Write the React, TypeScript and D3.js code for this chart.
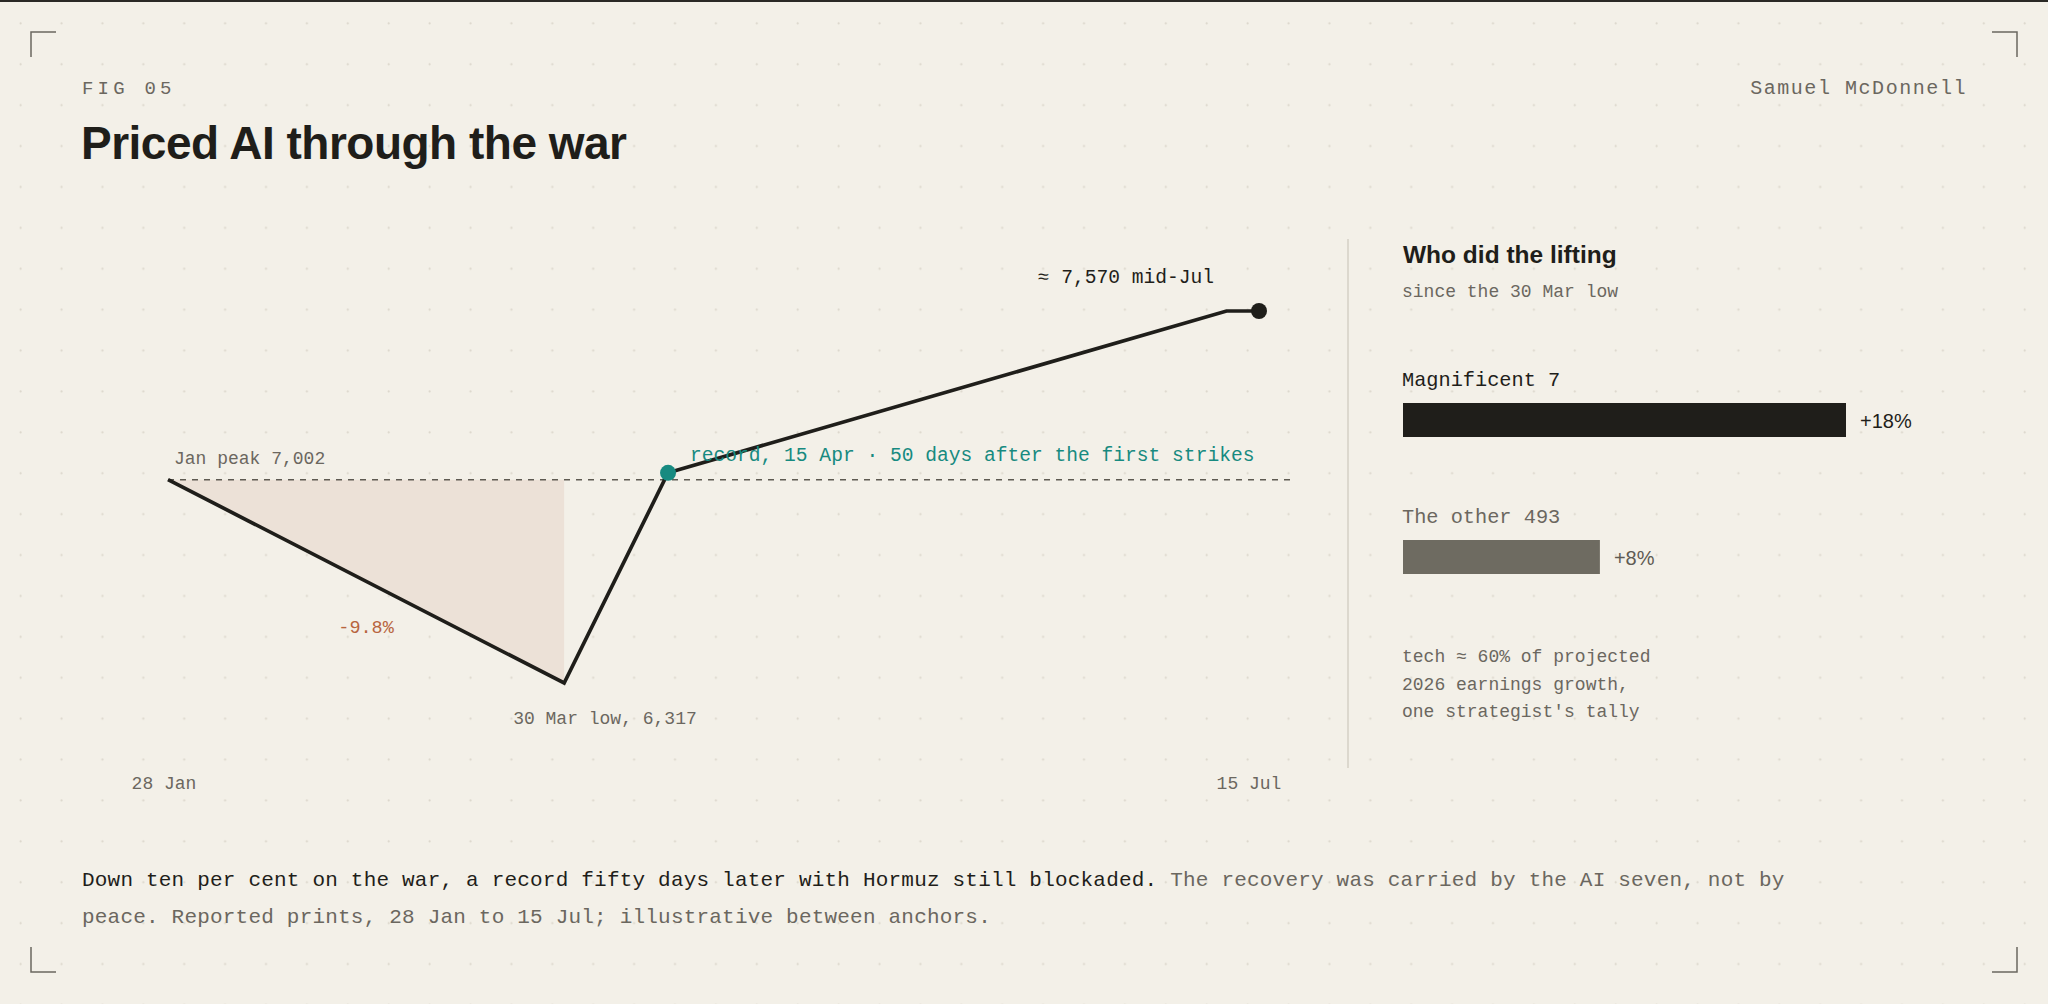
import React, { useEffect } from 'react';
import * as d3 from 'd3';

const W = 2048;
const H = 1004;

// index level: reported prints at the anchors, illustrative in between
const dates = ['2026-01-28', '2026-03-30', '2026-04-15', '2026-07-10', '2026-07-15'];
const levels = [7002, 6317, 7025, 7570, 7570];

const axisTicks = ['2026-01-28', '2026-07-15'];
const axisTickLabels = ['28 Jan', '15 Jul'];

// right panel
const barCategories = ['Magnificent 7', 'The other 493'];
const barValues = [18, 8];
const barLabels = ['+18%', '+8%'];

const noteLines = ['tech \u2248 60% of projected', '2026 earnings growth,', "one strategist's tally"];

const captionLead = 'Down ten per cent on the war, a record fifty days later with Hormuz still blockaded.';
const captionRest = ' The recovery was carried by the AI seven, not by';
const captionLine2 = 'peace. Reported prints, 28 Jan to 15 Jul; illustrative between anchors.';

const MONO = "'Liberation Mono', 'DejaVu Sans Mono', monospace";
const SANS = "'Liberation Sans', Arial, sans-serif";

const BG = '#f3f0e8';
const INK = '#1f1e1a';
const GREY = '#6b675f';
const TEAL = '#178a80';
const RUST = '#b8653f';

const parse = d3.timeParse('%Y-%m-%d');

const App: React.FC = () => {
  useEffect(() => {
    document.body.style.margin = '0';
    document.body.style.overflow = 'hidden';
  }, []);

  const pts = dates.map((d, i) => ({ date: parse(d) as Date, value: levels[i] }));

  const x = d3.scaleTime()
    .domain([pts[0].date, pts[pts.length - 1].date])
    .range([168, 1259]);
  const y = d3.scaleLinear().domain([6317, 7570]).range([683, 311]);
  const plotRight = 1293;

  const peak = pts[0];
  const low = pts[1];
  const record = pts[2];
  const last = pts[pts.length - 1];

  const line = d3.line<{ date: Date; value: number }>()
    .x(d => x(d.date))
    .y(d => y(d.value));

  // drawdown shading: between the Jan peak and the line, down to the low
  const area = d3.area<{ date: Date; value: number }>()
    .x(d => x(d.date))
    .y0(y(peak.value))
    .y1(d => y(d.value));

  const drop = d3.format('.1%')((low.value - peak.value) / peak.value).replace('\u2212', '-');
  const fmt = d3.format(',');

  // bars
  const bx = d3.scaleLinear().domain([0, 18]).range([0, 443]);
  const by = d3.scalePoint<string>().domain(barCategories).range([403, 540]);
  const panelX = 1403;
  const left = 82;

  const corner = '#6b675f';

  return (
    <svg width={W} height={H} style={{ position: 'absolute', left: 0, top: 0, display: 'block' }}>
      <defs>
        <pattern id="dots" width={40.9} height={40.9} patternUnits="userSpaceOnUse">
          <circle cx={20.6} cy={23.4} r={1.1} fill="#dcd7cc" />
        </pattern>
      </defs>
      <rect width={W} height={H} fill={BG} />
      <rect width={W} height={H} fill="url(#dots)" />
      <rect width={W} height={2} fill="#2a2925" />

      {/* corner marks */}
      <g fill="none" stroke={corner} strokeWidth={1.5}>
        <path d="M31,57 V32 H56" />
        <path d="M1992,32 H2017 V57" />
        <path d="M31,947 V972 H56" />
        <path d="M1992,972 H2017 V947" />
      </g>

      {/* header */}
      <text x={left} y={94} fontFamily={MONO} fontSize={19} letterSpacing={4.2} fill={GREY}>FIG 05</text>
      <text x={1967} y={94} fontFamily={MONO} fontSize={20} letterSpacing={1.55} fill={GREY} textAnchor="end">Samuel McDonnell</text>
      <text x={left - 1} y={159} fontFamily={SANS} fontWeight={700} fontSize={46} letterSpacing={-0.5} fill={INK}>Priced AI through the war</text>

      {/* line chart */}
      <path d={area(pts.slice(0, 2)) || ''} fill="#ece1d7" />
      <line x1={x(peak.date)} x2={plotRight} y1={y(peak.value)} y2={y(peak.value)}
        stroke="#5e5a52" strokeWidth={1.5} strokeDasharray="6 6" />
      <path d={line(pts) || ''} fill="none" stroke={INK} strokeWidth={3.7} strokeLinejoin="miter" />
      <circle cx={x(record.date)} cy={y(record.value)} r={8} fill={TEAL} />
      <circle cx={x(last.date)} cy={y(last.value)} r={8} fill={INK} />

      <g fontFamily={MONO}>
        <text x={x(peak.date) + 6} y={y(peak.value) - 16} fontSize={18} fill={GREY}>
          Jan peak {fmt(peak.value)}
        </text>
        <text x={(x(peak.date) + x(low.date)) / 2} y={y(low.value) - 50} fontSize={18.5} fill={RUST} textAnchor="middle">
          {drop}
        </text>
        <text x={x(low.date) - 51} y={y(low.value) + 41} fontSize={18} fill={GREY}>
          30 Mar low, {fmt(low.value)}
        </text>
        <text x={x(record.date) + 22} y={y(record.value) - 12} fontSize={19.6} fill={TEAL}>
          record, 15 Apr · 50 days after the first strikes
        </text>
        <text x={x(last.date) - 45} y={y(last.value) - 28} fontSize={19.6} fill={INK} textAnchor="end">
          {'\u2248 '}{fmt(last.value)} mid-Jul
        </text>
        {axisTicks.map((t, i) => (
          <text key={t} x={x(parse(t) as Date) + (i === 0 ? -4 : -10)} y={789} fontSize={18} fill={GREY} textAnchor="middle">
            {axisTickLabels[i]}
          </text>
        ))}
      </g>

      {/* divider */}
      <line x1={1348} x2={1348} y1={239} y2={768} stroke="#d5d0c6" strokeWidth={1.5} />

      {/* right panel */}
      <text x={panelX} y={263} fontFamily={SANS} fontWeight={700} fontSize={24.5} fill={INK}>Who did the lifting</text>
      <text x={panelX - 1} y={297} fontFamily={MONO} fontSize={18} fill={GREY}>since the 30 Mar low</text>

      {barCategories.map((c, i) => {
        const top = by(c) as number;
        const first = i === 0;
        return (
          <g key={c}>
            <text x={panelX - 1} y={top - 17} fontFamily={MONO} fontSize={20.3} fill={first ? INK : GREY}>{c}</text>
            <rect x={panelX} y={top} width={bx(barValues[i])} height={34} fill={first ? INK : '#6e6b61'} />
            <text x={panelX + bx(barValues[i]) + 14} y={top + 25} fontFamily={SANS} fontSize={20} fill={first ? INK : '#5f5b53'}>
              {barLabels[i]}
            </text>
          </g>
        );
      })}

      {noteLines.map((l, i) => (
        <text key={i} x={panelX - 1} y={662 + i * 27.5} fontFamily={MONO} fontSize={18} fill={GREY}>{l}</text>
      ))}

      {/* caption */}
      <text x={left} y={886} fontFamily={MONO} fontSize={21} letterSpacing={0.2}>
        <tspan fill={INK}>{captionLead}</tspan>
        <tspan fill={GREY}>{captionRest}</tspan>
      </text>
      <text x={left} y={923} fontFamily={MONO} fontSize={21} letterSpacing={0.2} fill={GREY}>{captionLine2}</text>
    </svg>
  );
};

export default App;
